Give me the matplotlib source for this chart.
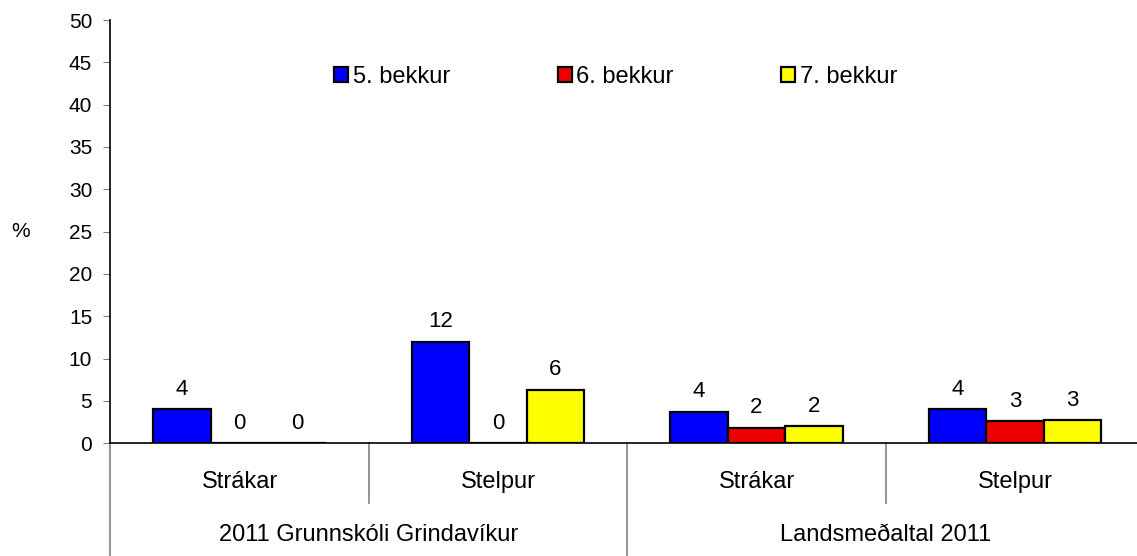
import matplotlib
matplotlib.use("Agg")
import matplotlib.pyplot as plt
import numpy as np
from matplotlib.transforms import blended_transform_factory

plt.rcParams['font.family'] = ['Liberation Sans', 'DejaVu Sans']

# data
categories = ['Strákar', 'Stelpur', 'Strákar', 'Stelpur']
groups = ['2011 Grunnskóli Grindavíkur', 'Landsmeðaltal 2011']
series = ['5. bekkur', '6. bekkur', '7. bekkur']
bekkur5 = [4.0, 12.0, 3.7, 4.0]
bekkur6 = [0.0, 0.0, 1.8, 2.6]
bekkur7 = [0.0, 6.3, 2.0, 2.7]
colors = ['#0000FF', '#EE0000', '#FFFF00']

fig = plt.figure(figsize=(11.37, 5.56), dpi=100)
ax = fig.add_axes([110.3 / 1137, 1 - 443.3 / 556, 1034 / 1137, 423.3 / 556])

x = np.arange(len(categories))
w = 1 / 4.5
fs_tick = 15
fs_lab = 17

for i, vals in enumerate([bekkur5, bekkur6, bekkur7]):
    pos = x + (i - 1) * w
    ax.bar(pos, vals, w, color=colors[i], edgecolor='black', linewidth=1.6,
           label=series[i], zorder=3)
    for px, v in zip(pos, vals):
        ax.annotate('%d' % round(v), (px, v), xytext=(0, 7), textcoords='offset points',
                    ha='center', va='bottom', fontsize=16)

ax.set_xlim(-0.5, 3.5)
ax.set_ylim(0, 50)
ax.set_yticks(range(0, 51, 5))
ax.tick_params(axis='y', length=5, color='#808080', labelsize=fs_tick, pad=8)
ax.set_xticks([])
for s in ['top', 'right']:
    ax.spines[s].set_visible(False)
ax.spines['left'].set_linewidth(1.2)
ax.spines['bottom'].set_linewidth(1.2)

fig.text(21 / 1137, 1 - 231 / 556, '%', fontsize=fs_tick, ha='center', va='center')

# multi-level category axis
tr = blended_transform_factory(ax.transData, ax.transAxes)
ybot = -(556 - 443.3) / 423.3
yshort = -(503 - 443.3) / 423.3
ax.plot([-0.5, -0.5], [0, ybot], color='#808080', lw=1.2, transform=tr, clip_on=False)
for xd in [0.5, 2.5]:
    ax.plot([xd, xd], [0, yshort], color='#808080', lw=1.2, transform=tr, clip_on=False)
ax.plot([1.5, 1.5], [0, ybot], color='#808080', lw=1.2, transform=tr, clip_on=False)
for xi, c in zip(x, categories):
    ax.text(xi, -(482 - 443.3) / 423.3, c, transform=tr, ha='center', va='center', fontsize=fs_lab)
for gi, g in enumerate(groups):
    ax.text(0.5 + 2 * gi, -(535 - 443.3) / 423.3, g, transform=tr, ha='center', va='center', fontsize=fs_lab)

fig.legend(loc='center left', bbox_to_anchor=(334 / 1137, 1 - 77 / 556), ncol=3, frameon=False,
           fontsize=fs_lab, handlelength=0.6, handleheight=0.6, handletextpad=0.2,
           columnspacing=4.55, borderpad=0, borderaxespad=0)

fig.savefig('out.png', dpi=100)
